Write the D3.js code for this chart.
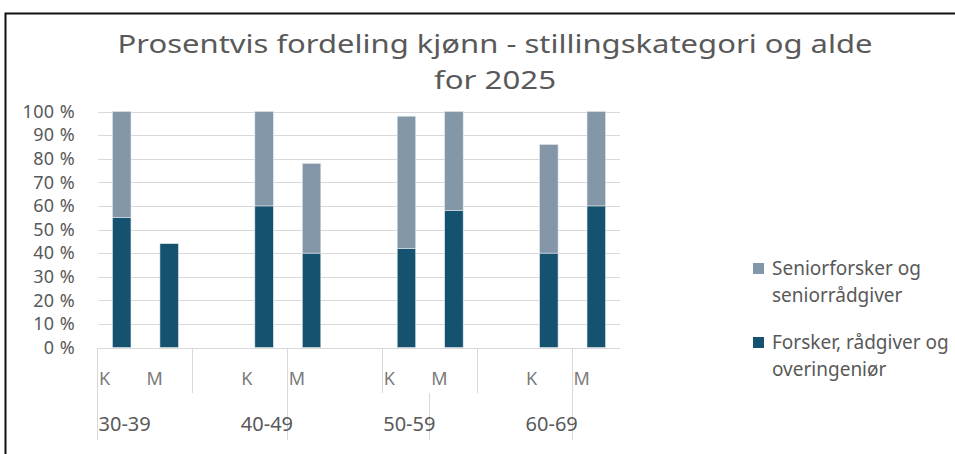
<!DOCTYPE html>
<html lang="no">
<head>
    <meta charset="UTF-8">
    <title>Prosentvis fordeling kjønn</title>
    <script src="https://cdn.jsdelivr.net/npm/d3@7/dist/d3.min.js"></script>
    <style>
        body { margin: 0; background: #fff; }
        svg { display: block; font-family: "Noto Sans", "Liberation Sans", sans-serif; }
    </style>
</head>
<body>
<script>
// data
var ages = ["30-39", "40-49", "50-59", "60-69"];
var genders = ["K", "M"];
var seriesNames = ["Seniorforsker og seniorrådgiver", "Forsker, rådgiver og overingeniør"];
// verdier i prosent, rekkefølge: 30-39 K, 30-39 M, 40-49 K, ...
var forsker = [55, 44, 60, 40, 42, 58, 40, 60];
var senior = [45, 0, 40, 38, 56, 42, 46, 40];
var yTicks = [0, 10, 20, 30, 40, 50, 60, 70, 80, 90, 100];

var width = 955, height = 454;
var colDark = "#14526f", colLight = "#8497a9";
var textCol = "#595959";

var svg = d3.select("body").append("svg").attr("width", width).attr("height", height);

// ramme
svg.append("path")
    .attr("d", "M5.5," + height + "V13.5H" + width)
    .attr("fill", "none").attr("stroke", "#111").attr("stroke-width", 2);

// tittel
var title = svg.append("text")
    .attr("text-anchor", "middle")
    .attr("fill", textCol)
    .attr("font-size", 26);
title.append("tspan").attr("x", 495).attr("y", 53)
    .attr("textLength", 755).attr("lengthAdjust", "spacingAndGlyphs")
    .text("Prosentvis fordeling kjønn - stillingskategori og alde");
title.append("tspan").attr("x", 495).attr("y", 89)
    .attr("textLength", 122).attr("lengthAdjust", "spacingAndGlyphs")
    .text("for 2025");

// hver aldersgruppe har tre plasser: K, M og en tom
var slots = d3.range(ages.length * 3 - 1);
var x = d3.scaleBand().domain(slots).range([98, 620]).padding(0);
var y = d3.scaleLinear().domain([0, 100]).range([347.5, 111.5]);

var rows = [];
ages.forEach(function(a, gi) {
    genders.forEach(function(g, j) {
        var i = gi * 2 + j;
        rows.push({ age: a, gender: g, slot: gi * 3 + j, forsker: forsker[i], senior: senior[i] });
    });
});

// rutenett
svg.append("g").selectAll("line")
    .data(yTicks.slice(1))
    .enter().append("line")
    .attr("x1", 98).attr("x2", 620)
    .attr("y1", function(d) { return Math.round(y(d)) + 0.5; })
    .attr("y2", function(d) { return Math.round(y(d)) + 0.5; })
    .attr("stroke", "#d9d9d9").attr("stroke-width", 1);

// y-akse
var yAxis = svg.append("g")
    .attr("transform", "translate(75,0)")
    .call(d3.axisLeft(y).tickValues(yTicks).tickSize(0).tickPadding(0)
        .tickFormat(function(d) { return d + " %"; }));
yAxis.select(".domain").remove();
yAxis.selectAll("text")
    .attr("fill", textCol)
    .attr("font-size", 18)
    .attr("letter-spacing", 0.4)
    .attr("font-family", "Noto Sans");

// stablede søyler
var stack = d3.stack().keys(["forsker", "senior"]);
var layers = stack(rows);
var barW = 18.5;

svg.append("g").selectAll("g")
    .data(layers)
    .enter().append("g")
    .attr("fill", function(d) { return d.key === "forsker" ? colDark : colLight; })
    .selectAll("rect")
    .data(function(d) { return d.filter(function(p) { return p[1] - p[0] > 0; }); })
    .enter().append("rect")
    .attr("x", function(d) { return x(d.data.slot) + x.bandwidth() / 2 - barW / 2; })
    .attr("width", barW)
    .attr("y", function(d) { return y(d[1]); })
    .attr("height", function(d) { return y(d[0]) - y(d[1]); })
    .attr("stroke", "#dfe6ea").attr("stroke-width", 0.6);

// x-akse med to nivåer
var axisG = svg.append("g");
axisG.append("line")
    .attr("x1", 98).attr("x2", 620).attr("y1", 348.5).attr("y2", 348.5)
    .attr("stroke", "#d9d9d9");

var tickSlots = [0, 2, 4, 6, 8, 10];
var groupTickSlots = [0, 4, 7, 10];

axisG.selectAll(".t1")
    .data(tickSlots)
    .enter().append("line")
    .attr("class", "t1")
    .attr("x1", function(d) { return Math.round(x(d)) - 0.5; })
    .attr("x2", function(d) { return Math.round(x(d)) - 0.5; })
    .attr("y1", 348).attr("y2", 393)
    .attr("stroke", "#d9d9d9");

axisG.selectAll(".t2")
    .data(groupTickSlots)
    .enter().append("line")
    .attr("class", "t2")
    .attr("x1", function(d) { return Math.round(x(d)) - 0.5; })
    .attr("x2", function(d) { return Math.round(x(d)) - 0.5; })
    .attr("y1", 393).attr("y2", 440)
    .attr("stroke", "#d9d9d9");

axisG.selectAll(".kj")
    .data(rows)
    .enter().append("text")
    .attr("class", "kj")
    .attr("x", function(d) { return x(d.slot) + 1; })
    .attr("y", 385)
    .attr("fill", "#7a7a7a")
    .attr("font-size", 18)
    .text(function(d) { return d.gender; });

axisG.selectAll(".age")
    .data(ages)
    .enter().append("text")
    .attr("class", "age")
    .attr("x", function(d, i) { return x(i * 3) + 0.5; })
    .attr("y", 431)
    .attr("fill", textCol)
    .attr("font-size", 20)
    .text(function(d) { return d; });

// legende
var legend = svg.append("g");
var legendItems = [
    { color: colLight, lines: ["Seniorforsker og", "seniorrådgiver"], y: 263 },
    { color: colDark, lines: ["Forsker, rådgiver og", "overingeniør"], y: 337 }
];
var li = legend.selectAll("g")
    .data(legendItems)
    .enter().append("g")
    .attr("transform", function(d) { return "translate(753," + d.y + ")"; });
li.append("rect").attr("width", 11).attr("height", 11)
    .attr("fill", function(d) { return d.color; });
li.each(function(d) {
    var t = d3.select(this).append("text")
        .attr("fill", textCol)
        .attr("font-size", 19);
    d.lines.forEach(function(s, k) {
        t.append("tspan").attr("x", 19).attr("y", 12 + k * 27).text(s);
    });
});
</script>
</body>
</html>
